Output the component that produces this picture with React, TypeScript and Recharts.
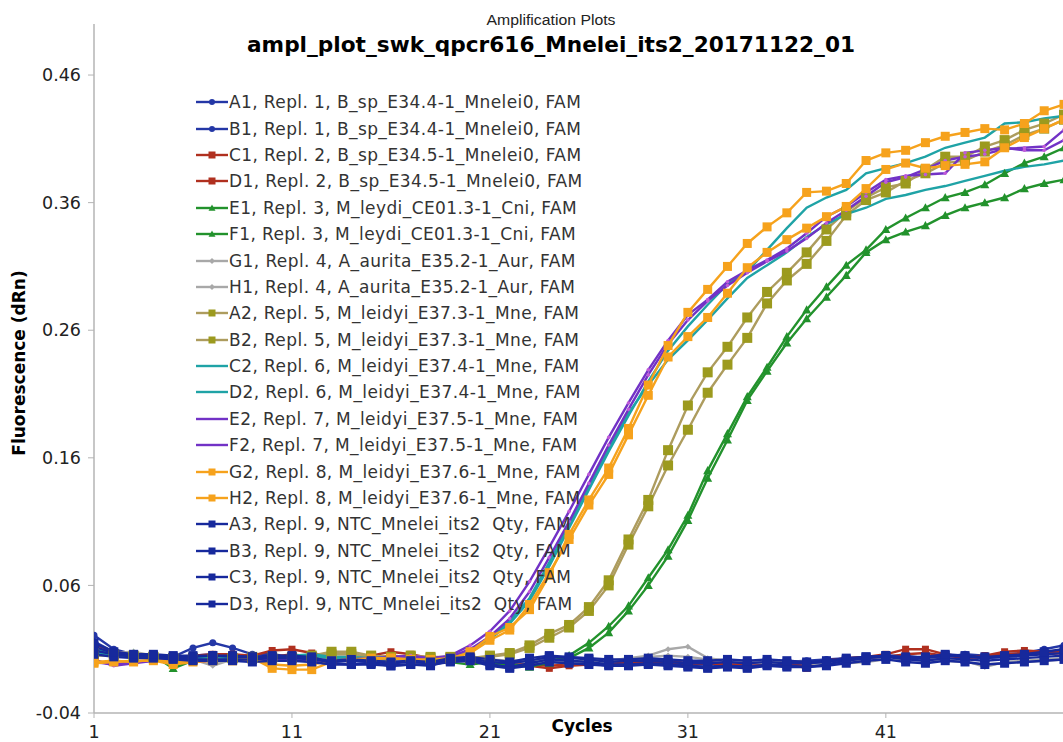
import React from "react";
import { LineChart, Line, XAxis, YAxis, Legend } from "recharts";

// qPCR amplification, dRn per cycle
const cycles = [
  1, 2, 3, 4, 5, 6, 7, 8, 9, 10, 11, 12, 13, 14, 15, 16, 17, 18, 19, 20,
  21, 22, 23, 24, 25, 26, 27, 28, 29, 30, 31, 32, 33, 34, 35, 36, 37, 38, 39, 40,
  41, 42, 43, 44, 45, 46, 47, 48, 49, 50,
];

const xTicks = [1, 11, 21, 31, 41];
const yTicks = [-0.04, 0.06, 0.16, 0.26, 0.36, 0.46];

const A1 = [
  0.021, 0.010, 0.006, 0.005, 0.004, 0.011, 0.015, 0.011, 0.006, 0.006,
  0.004, 0.004, 0.002, 0.003, 0.002, 0.003, 0.001, 0.001, 0.003, 0.004,
  0.001, -0.001, 0.001, 0.003, 0.000, 0.001, -0.001, 0.000, 0.002, 0.001,
  -0.001, -0.002, 0.000, -0.001, -0.001, 0.000, 0.001, 0.002, 0.003, 0.004,
  0.005, 0.005, 0.003, 0.005, 0.004, 0.003, 0.004, 0.005, 0.007, 0.009,
];
const B1 = [
  0.016, 0.008, 0.005, 0.004, 0.003, 0.005, 0.006, 0.005, 0.004, 0.004,
  0.003, 0.003, 0.001, 0.001, 0.000, 0.001, 0.000, 0.000, 0.002, 0.003,
  -0.001, -0.003, -0.001, 0.001, -0.002, -0.001, -0.003, -0.002, -0.001, -0.002,
  -0.003, -0.004, -0.002, -0.003, -0.003, -0.002, -0.001, 0.000, 0.001, 0.002,
  0.004, 0.003, 0.002, 0.004, 0.006, 0.005, 0.006, 0.007, 0.010, 0.013,
];
const C1 = [
  0.014, 0.008, 0.006, 0.005, 0.004, 0.005, 0.006, 0.006, 0.005, 0.009,
  0.010, 0.007, 0.004, 0.004, 0.005, 0.008, 0.006, 0.003, 0.003, 0.002,
  0.002, 0.000, -0.003, -0.005, -0.003, -0.002, 0.000, 0.000, -0.001, 0.000,
  -0.001, 0.000, -0.001, 0.000, -0.002, -0.001, -0.005, 0.001, 0.003, 0.004,
  0.006, 0.010, 0.010, 0.006, 0.004, 0.005, 0.008, 0.009, 0.008, 0.009,
];
const D1 = [
  0.010, 0.006, 0.005, 0.004, 0.004, 0.004, 0.005, 0.004, 0.003, 0.004,
  0.006, 0.004, 0.003, 0.003, 0.003, 0.005, 0.004, 0.002, 0.002, 0.001,
  0.001, -0.001, -0.002, -0.003, -0.002, -0.002, -0.001, 0.000, -0.001, -0.001,
  -0.002, -0.001, -0.002, -0.001, -0.001, -0.002, -0.003, 0.000, 0.002, 0.003,
  0.004, 0.006, 0.007, 0.005, 0.003, 0.004, 0.006, 0.007, 0.006, 0.007,
];
const E1 = [
  0.008, 0.006, 0.007, 0.005, -0.005, 0.001, 0.002, 0.003, 0.003, 0.004,
  0.004, 0.003, 0.002, 0.003, 0.003, 0.002, 0.002, 0.001, 0.001, 0.001,
  0.000, -0.002, -0.004, 0.000, 0.005, 0.015, 0.028, 0.044, 0.066, 0.088,
  0.115, 0.150, 0.179, 0.208, 0.231, 0.255, 0.276, 0.294, 0.311, 0.323,
  0.339, 0.348, 0.356, 0.364, 0.368, 0.374, 0.383, 0.391, 0.396, 0.403,
];
const F1 = [
  0.006, 0.005, 0.006, 0.004, 0.002, 0.002, 0.003, 0.003, 0.003, 0.003,
  0.003, 0.003, 0.002, 0.002, 0.002, 0.002, 0.001, 0.001, 0.000, -0.002,
  0.000, -0.002, -0.003, -0.001, 0.003, 0.011, 0.023, 0.040, 0.060, 0.083,
  0.111, 0.144, 0.174, 0.205, 0.228, 0.250, 0.269, 0.286, 0.303, 0.321,
  0.331, 0.337, 0.342, 0.350, 0.356, 0.360, 0.364, 0.371, 0.375, 0.378,
];
const G1 = [
  0.008, 0.007, 0.008, 0.005, 0.004, 0.002, -0.003, 0.002, 0.003, 0.003,
  0.004, 0.003, 0.002, 0.004, 0.003, 0.003, 0.002, 0.002, 0.002, 0.001,
  0.002, 0.001, 0.001, 0.001, 0.000, 0.001, 0.001, 0.003, 0.005, 0.010,
  0.012, 0.003, 0.001, 0.001, 0.000, 0.001, 0.000, -0.001, 0.000, 0.001,
  0.003, 0.003, 0.002, 0.002, 0.001, -0.004, 0.000, 0.001, 0.002, 0.003,
];
const H1 = [
  0.006, 0.005, 0.005, 0.004, 0.003, 0.003, 0.000, 0.001, 0.002, 0.002,
  0.003, 0.002, 0.002, 0.003, 0.002, 0.002, 0.001, 0.001, 0.001, 0.000,
  0.001, 0.000, 0.000, 0.000, -0.001, 0.000, 0.000, 0.002, 0.004, 0.005,
  0.004, 0.002, 0.000, 0.000, -0.001, 0.000, -0.001, -0.002, -0.001, 0.000,
  0.002, 0.002, 0.001, 0.001, 0.000, -0.002, -0.001, 0.000, 0.001, 0.002,
];
const A2 = [
  0.007, 0.006, 0.005, 0.004, 0.003, 0.003, 0.003, 0.003, 0.004, 0.004,
  0.004, 0.005, 0.008, 0.008, 0.005, 0.004, 0.005, 0.004, 0.004, 0.003,
  0.005, 0.007, 0.013, 0.022, 0.029, 0.043, 0.064, 0.096, 0.127, 0.166,
  0.201, 0.227, 0.247, 0.270, 0.290, 0.305, 0.321, 0.339, 0.353, 0.364,
  0.372, 0.375, 0.386, 0.396, 0.396, 0.404, 0.409, 0.417, 0.422, 0.429,
];
const B2 = [
  0.005, 0.005, 0.004, 0.004, 0.003, 0.003, 0.002, 0.003, 0.003, 0.003,
  0.003, 0.004, 0.006, 0.006, 0.004, 0.003, 0.004, 0.003, 0.003, 0.002,
  0.004, 0.006, 0.011, 0.019, 0.027, 0.040, 0.060, 0.092, 0.122, 0.154,
  0.182, 0.211, 0.233, 0.254, 0.281, 0.299, 0.312, 0.330, 0.350, 0.362,
  0.368, 0.377, 0.383, 0.391, 0.393, 0.400, 0.405, 0.413, 0.418, 0.425,
];
const C2 = [
  0.010, 0.006, 0.005, 0.004, 0.004, 0.003, 0.003, 0.004, 0.003, 0.004,
  0.005, 0.006, 0.004, 0.004, 0.003, 0.004, 0.003, 0.003, 0.003, 0.008,
  0.018, 0.030, 0.048, 0.075, 0.105, 0.135, 0.165, 0.193, 0.220, 0.244,
  0.263, 0.280, 0.296, 0.306, 0.323, 0.340, 0.356, 0.364, 0.370, 0.383,
  0.387, 0.391, 0.396, 0.403, 0.407, 0.411, 0.422, 0.423, 0.426, 0.428,
];
const D2 = [
  0.008, 0.005, 0.004, 0.004, 0.003, 0.002, 0.002, 0.003, 0.002, 0.003,
  0.004, 0.005, 0.003, 0.003, 0.002, 0.003, 0.003, 0.002, 0.002, 0.008,
  0.019, 0.032, 0.050, 0.078, 0.108, 0.138, 0.168, 0.195, 0.217, 0.237,
  0.252, 0.268, 0.285, 0.301, 0.311, 0.321, 0.333, 0.343, 0.351, 0.356,
  0.363, 0.366, 0.370, 0.373, 0.377, 0.381, 0.385, 0.388, 0.390, 0.393,
];
const E2 = [
  0.002, -0.003, -0.001, 0.001, 0.002, 0.001, 0.001, 0.002, 0.001, 0.002,
  0.002, 0.002, 0.001, 0.002, 0.003, 0.004, 0.005, 0.003, 0.005, 0.013,
  0.024, 0.040, 0.063, 0.090, 0.118, 0.147, 0.176, 0.203, 0.229, 0.252,
  0.272, 0.284, 0.298, 0.307, 0.315, 0.324, 0.336, 0.349, 0.357, 0.368,
  0.378, 0.381, 0.382, 0.383, 0.399, 0.401, 0.403, 0.401, 0.401, 0.409,
];
const F2 = [
  0.000, -0.002, 0.000, 0.001, 0.001, 0.000, 0.001, 0.001, 0.001, 0.001,
  0.002, 0.001, 0.001, 0.002, 0.003, 0.003, 0.004, 0.002, 0.004, 0.010,
  0.020, 0.034, 0.055, 0.082, 0.110, 0.140, 0.170, 0.198, 0.225, 0.249,
  0.268, 0.283, 0.295, 0.305, 0.314, 0.322, 0.332, 0.344, 0.354, 0.365,
  0.376, 0.380, 0.386, 0.393, 0.396, 0.398, 0.402, 0.403, 0.404, 0.417,
];
const G2 = [
  -0.001, 0.000, 0.001, 0.001, -0.002, 0.000, 0.001, 0.001, 0.003, -0.005,
  -0.006, -0.006, 0.000, 0.002, 0.003, 0.003, 0.002, 0.001, 0.002, 0.008,
  0.020, 0.027, 0.041, 0.068, 0.100, 0.127, 0.152, 0.183, 0.217, 0.248,
  0.274, 0.292, 0.310, 0.328, 0.341, 0.352, 0.368, 0.369, 0.375, 0.393,
  0.399, 0.401, 0.407, 0.412, 0.415, 0.418, 0.417, 0.422, 0.432, 0.437,
];
const H2 = [
  0.000, 0.001, 0.000, 0.002, 0.000, 0.001, 0.002, 0.001, 0.002, -0.002,
  -0.003, -0.002, 0.001, 0.002, 0.002, 0.003, 0.002, 0.002, 0.003, 0.007,
  0.017, 0.025, 0.045, 0.070, 0.096, 0.123, 0.147, 0.178, 0.209, 0.239,
  0.255, 0.270, 0.289, 0.309, 0.321, 0.331, 0.340, 0.349, 0.357, 0.371,
  0.386, 0.391, 0.387, 0.389, 0.390, 0.392, 0.403, 0.411, 0.418, 0.425,
];
const A3 = [
  0.012, 0.007, 0.005, 0.005, 0.004, 0.004, 0.005, 0.004, 0.004, 0.005,
  0.005, 0.004, -0.001, -0.002, -0.001, -0.003, -0.002, -0.003, 0.001, 0.002,
  -0.002, -0.004, -0.001, 0.002, 0.001, 0.000, -0.002, -0.002, -0.001, -0.002,
  -0.003, -0.004, -0.003, -0.004, -0.002, -0.003, -0.004, -0.002, 0.001, 0.003,
  0.004, 0.002, 0.001, 0.003, 0.002, 0.001, 0.002, 0.003, 0.004, 0.005,
];
const B3 = [
  0.009, 0.006, 0.004, 0.004, 0.003, 0.002, 0.002, 0.002, 0.002, 0.003,
  0.003, 0.002, 0.000, 0.001, 0.000, -0.001, 0.000, -0.001, 0.002, 0.003,
  0.000, -0.001, 0.001, 0.004, 0.003, 0.002, 0.000, 0.001, 0.001, 0.000,
  -0.001, -0.001, 0.000, -0.001, 0.000, -0.001, -0.001, 0.000, 0.002, 0.004,
  0.005, 0.003, 0.003, 0.005, 0.004, 0.003, 0.004, 0.005, 0.006, 0.007,
];
const C3 = [
  0.006, 0.004, 0.003, 0.003, 0.002, 0.001, 0.001, 0.001, 0.000, 0.001,
  0.001, 0.000, -0.002, -0.002, -0.002, -0.003, -0.002, -0.002, 0.000, 0.001,
  -0.003, -0.005, -0.003, 0.000, -0.001, -0.002, -0.003, -0.003, -0.002, -0.003,
  -0.004, -0.005, -0.004, -0.005, -0.003, -0.004, -0.004, -0.003, -0.001, 0.001,
  0.002, 0.000, -0.001, 0.001, 0.000, -0.002, -0.001, 0.000, 0.001, 0.002,
];
const D3 = [
  0.015, 0.008, 0.006, 0.006, 0.005, 0.005, 0.005, 0.005, 0.004, 0.004,
  0.004, 0.003, 0.001, 0.002, 0.001, 0.000, 0.001, 0.000, 0.003, 0.004,
  0.002, 0.000, 0.003, 0.005, 0.004, 0.003, 0.002, 0.002, 0.003, 0.002,
  0.001, 0.001, 0.002, 0.001, 0.002, 0.001, 0.000, 0.001, 0.003, 0.004,
  0.005, 0.004, 0.004, 0.006, 0.005, 0.004, 0.005, 0.006, 0.008, 0.010,
];

const wells: Record<string, number[]> = {
  A1, B1, C1, D1, E1, F1, G1, H1, A2, B2, C2, D2, E2, F2, G2, H2, A3, B3, C3, D3,
};

type Marker = "circle" | "square" | "triangle" | "diamond" | "dot" | "none";

interface SeriesDef {
  key: string;
  label: string;
  color: string;
  marker: Marker;
  markerColor?: string;
  size: number;
}

const series: SeriesDef[] = [
  { key: "A1", label: "A1, Repl. 1, B_sp_E34.4-1_Mnelei0, FAM", color: "#2437a6", marker: "circle", size: 3.5 },
  { key: "B1", label: "B1, Repl. 1, B_sp_E34.4-1_Mnelei0, FAM", color: "#2437a6", marker: "circle", size: 3.5 },
  { key: "C1", label: "C1, Repl. 2, B_sp_E34.5-1_Mnelei0, FAM", color: "#b0301f", marker: "square", size: 7 },
  { key: "D1", label: "D1, Repl. 2, B_sp_E34.5-1_Mnelei0, FAM", color: "#b0301f", marker: "square", size: 7 },
  { key: "E1", label: "E1, Repl. 3, M_leydi_CE01.3-1_Cni, FAM", color: "#22922c", marker: "triangle", size: 9 },
  { key: "F1", label: "F1, Repl. 3, M_leydi_CE01.3-1_Cni, FAM", color: "#22922c", marker: "triangle", size: 9 },
  { key: "G1", label: "G1, Repl. 4, A_aurita_E35.2-1_Aur, FAM", color: "#a8a8a8", marker: "diamond", size: 6 },
  { key: "H1", label: "H1, Repl. 4, A_aurita_E35.2-1_Aur, FAM", color: "#a8a8a8", marker: "diamond", size: 6 },
  { key: "A2", label: "A2, Repl. 5, M_leidyi_E37.3-1_Mne, FAM", color: "#ad9c5e", marker: "square", markerColor: "#9c9a1e", size: 10 },
  { key: "B2", label: "B2, Repl. 5, M_leidyi_E37.3-1_Mne, FAM", color: "#ad9c5e", marker: "square", markerColor: "#9c9a1e", size: 10 },
  { key: "C2", label: "C2, Repl. 6, M_leidyi_E37.4-1_Mne, FAM", color: "#1fa3a6", marker: "none", size: 0 },
  { key: "D2", label: "D2, Repl. 6, M_leidyi_E37.4-1_Mne, FAM", color: "#1fa3a6", marker: "none", size: 0 },
  { key: "E2", label: "E2, Repl. 7, M_leidyi_E37.5-1_Mne, FAM", color: "#7232c6", marker: "dot", markerColor: "#c05ad8", size: 1.8 },
  { key: "F2", label: "F2, Repl. 7, M_leidyi_E37.5-1_Mne, FAM", color: "#7232c6", marker: "dot", markerColor: "#c05ad8", size: 1.8 },
  { key: "G2", label: "G2, Repl. 8, M_leidyi_E37.6-1_Mne, FAM", color: "#f6a21c", marker: "square", size: 9 },
  { key: "H2", label: "H2, Repl. 8, M_leidyi_E37.6-1_Mne, FAM", color: "#f6a21c", marker: "square", size: 9 },
  { key: "A3", label: "A3, Repl. 9, NTC_Mnelei_its2  Qty, FAM", color: "#17299c", marker: "square", size: 9 },
  { key: "B3", label: "B3, Repl. 9, NTC_Mnelei_its2  Qty, FAM", color: "#17299c", marker: "square", size: 9 },
  { key: "C3", label: "C3, Repl. 9, NTC_Mnelei_its2  Qty, FAM", color: "#17299c", marker: "square", size: 9 },
  { key: "D3", label: "D3, Repl. 9, NTC_Mnelei_its2  Qty, FAM", color: "#17299c", marker: "square", size: 9 },
];

const data = cycles.map((cycle, i) => {
  const row: Record<string, number> = { cycle };
  Object.keys(wells).forEach((k) => {
    row[k] = wells[k][i];
  });
  return row;
});

function drawMarker(kind: Marker, cx: number, cy: number, fill: string, size: number, key: string) {
  const h = size / 2;
  switch (kind) {
    case "circle":
    case "dot":
      return <circle key={key} cx={cx} cy={cy} r={size} fill={fill} />;
    case "square":
      return <rect key={key} x={cx - h} y={cy - h} width={size} height={size} fill={fill} />;
    case "triangle":
      return (
        <polygon
          key={key}
          points={`${cx},${cy - h} ${cx + h},${cy + h * 0.8} ${cx - h},${cy + h * 0.8}`}
          fill={fill}
        />
      );
    case "diamond":
      return (
        <polygon
          key={key}
          points={`${cx},${cy - h} ${cx + h},${cy} ${cx},${cy + h} ${cx - h},${cy}`}
          fill={fill}
        />
      );
    default:
      return <g key={key} />;
  }
}

const FONT = "'DejaVu Sans', Verdana, sans-serif";

function LegendBox() {
  return (
    <div style={{ fontFamily: FONT, fontSize: 17, letterSpacing: 0.4, color: "#333" }}>
      {series.map((s) => (
        <div key={s.key} style={{ display: "flex", alignItems: "center", height: 26.4, whiteSpace: "pre" }}>
          <svg width={34} height={26} style={{ flex: "none" }}>
            <line x1={1} y1={13} x2={33} y2={13} stroke={s.color} strokeWidth={2.4} />
            {s.marker !== "dot" &&
              drawMarker(s.marker, 17, 13, s.markerColor ?? s.color, s.marker === "circle" ? 3 : Math.min(s.size, 7), s.key)}
          </svg>
          <span>{s.label}</span>
        </div>
      ))}
    </div>
  );
}

export default function App() {
  return (
    <div
      style={{
        position: "fixed",
        left: 0,
        top: 0,
        width: 1063,
        height: 742,
        overflow: "hidden",
        background: "#fff",
      }}
    >
      <LineChart width={1080} height={742} data={data} margin={{ top: 24, right: 16, bottom: 0, left: 0 }}>
        <XAxis
          dataKey="cycle"
          type="number"
          domain={[1, 50]}
          ticks={xTicks}
          allowDataOverflow
          height={29}
          tickSize={5}
          tickMargin={8}
          axisLine={{ stroke: "#b4b4b4", strokeWidth: 1.5 }}
          tickLine={{ stroke: "#b4b4b4" }}
          tick={{ fill: "#222", fontSize: 17.5, fontFamily: FONT }}
        />
        <YAxis
          type="number"
          domain={[-0.04, 0.5]}
          ticks={yTicks}
          allowDataOverflow
          width={94}
          tickSize={6}
          tickMargin={7}
          tickFormatter={(v: number) => v.toFixed(2)}
          axisLine={{ stroke: "#b4b4b4", strokeWidth: 1.5 }}
          tickLine={{ stroke: "#b4b4b4" }}
          tick={{ fill: "#222", fontSize: 17.5, fontFamily: FONT }}
        />
        <Legend
          layout="vertical"
          align="center"
          verticalAlign="middle"
          content={() => <LegendBox />}
          wrapperStyle={{ left: 195, top: 89, width: 420, height: 530 }}
        />
        {series.map((s) => (
          <Line
            key={s.key}
            dataKey={s.key}
            type="linear"
            stroke={s.color}
            strokeWidth={2.4}
            isAnimationActive={false}
            activeDot={false}
            dot={
              s.marker === "none"
                ? false
                : (p: any) =>
                    p.cx == null || p.cy == null ? (
                      <g key={`${s.key}-${p.index}`} />
                    ) : (
                      drawMarker(s.marker, p.cx, p.cy, s.markerColor ?? s.color, s.size, `${s.key}-${p.index}`)
                    )
            }
          />
        ))}
      </LineChart>
      <svg
        width={1063}
        height={742}
        style={{ position: "absolute", left: 0, top: 0, pointerEvents: "none" }}
      >
        <text
          x={551}
          y={20}
          textAnchor="middle"
          dominantBaseline="central"
          fontFamily="'Liberation Sans', Arial, sans-serif"
          fontSize={14}
          fill="#222"
          textLength={129}
          lengthAdjust="spacingAndGlyphs"
        >
          Amplification Plots
        </text>
        <text
          x={551}
          y={45}
          textAnchor="middle"
          dominantBaseline="central"
          fontFamily={FONT}
          fontWeight="bold"
          fontSize={21}
          fill="#000"
          textLength={608}
          lengthAdjust="spacingAndGlyphs"
        >
          ampl_plot_swk_qpcr616_Mnelei_its2_20171122_01
        </text>
        <text
          x={19}
          y={363}
          transform="rotate(-90 19 363)"
          textAnchor="middle"
          dominantBaseline="central"
          fontFamily={FONT}
          fontWeight="bold"
          fontSize={17}
          fill="#000"
        >
          Fluorescence (dRn)
        </text>
        <text
          x={582}
          y={726}
          textAnchor="middle"
          dominantBaseline="central"
          fontFamily={FONT}
          fontWeight="bold"
          fontSize={17}
          fill="#000"
        >
          Cycles
        </text>
      </svg>
    </div>
  );
}
